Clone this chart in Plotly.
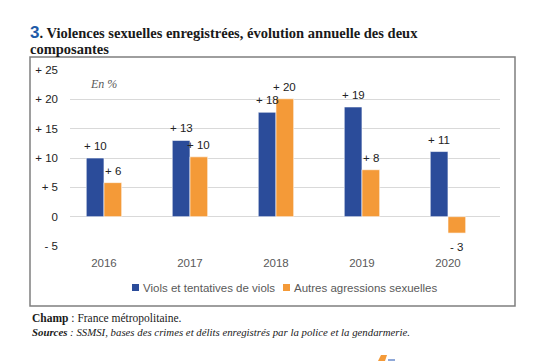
import plotly.graph_objects as go

years = ["2016", "2017", "2018", "2019", "2020"]
viols = [10.0, 13.0, 17.8, 18.7, 11.1]
autres = [5.8, 10.2, 20.1, 8.0, -2.8]
series_names = ["Viols et tentatives de viols", "Autres agressions sexuelles"]
ytick_vals = [-5, 0, 5, 10, 15, 20, 25]
ytick_text = ["- 5", "0", "+ 5", "+ 10", "+ 15", "+ 20", "+ 25"]

BLUE = "#2B4C9A"
ORANGE = "#F49A38"

W, H = 537, 361
L, R, T, B = 70, 500, 70, 246  # plot area in pixels


def px(x):
    return (x - L) / (R - L)


def py(y):
    return (B - y) / (B - T)


def lab(v):
    r = round(v)
    if r > 0:
        return f"+ {r}"
    if r < 0:
        return f"- {abs(r)}"
    return "0"


xpos = list(range(len(years)))
BARW = 0.206

fig = go.Figure()
for i, (name, vals, col) in enumerate([(series_names[0], viols, BLUE), (series_names[1], autres, ORANGE)]):
    fig.add_trace(go.Bar(
        x=xpos, y=vals, name=name, showlegend=False,
        marker=dict(color=col, line=dict(color="rgba(255,255,255,0.6)", width=1)),
        cliponaxis=False, hoverinfo="skip",
    ))
    off = (i - 0.5) * BARW
    for xv, v in zip(xpos, vals):
        fig.add_annotation(x=xv + off, y=v, xref="x", yref="y", showarrow=False,
                           text=lab(v), yanchor="bottom" if v >= 0 else "top",
                           yshift=4 if v >= 0 else -6,
                           font=dict(family="Liberation Sans, Arial", size=11.5, color="#222222"))

fig.update_layout(
    width=W, height=H,
    margin=dict(l=L, r=W - R, t=T, b=H - B),
    paper_bgcolor="white", plot_bgcolor="white",
    barmode="group", bargap=0.588, bargroupgap=0,
    showlegend=False,
    font=dict(family="Liberation Sans, Arial"),
)
fig.update_xaxes(
    range=[-0.395, 4.605], tickvals=xpos, ticktext=years,
    showgrid=False, zeroline=False, showline=False,
    tickfont=dict(size=11.5, color="#595959"), ticklabelstandoff=8,
)
fig.update_yaxes(
    range=[-5, 25], tickvals=ytick_vals, ticktext=ytick_text,
    showgrid=True, gridcolor="#D9D9D9", gridwidth=1,
    zeroline=True, zerolinecolor="#D9D9D9", zerolinewidth=1,
    showline=False,
    tickfont=dict(size=11.5, color="#222222"), ticklabelstandoff=11,
)

# Frame around the chart
fig.add_shape(type="rect", xref="paper", yref="paper",
              x0=px(30), x1=px(515), y0=py(306), y1=py(57),
              line=dict(color="#7F7F7F", width=1.5), layer="below")

# Legend (small squares close to the text, as in the reference)
for name, col, x0 in [(series_names[0], BLUE, 132), (series_names[1], ORANGE, 283)]:
    fig.add_shape(type="rect", xref="paper", yref="paper",
                  x0=px(x0), x1=px(x0 + 7), y0=py(291), y1=py(284),
                  fillcolor=col, line=dict(width=0))
    fig.add_annotation(xref="paper", yref="paper", x=px(x0 + 9), y=py(287.5),
                       xanchor="left", yanchor="middle", showarrow=False, text=name,
                       font=dict(family="Liberation Sans, Arial", size=11.5, color="#595959"))

# "En %"
fig.add_annotation(xref="paper", yref="paper", x=px(88), y=py(84),
                   xanchor="left", yanchor="middle", showarrow=False,
                   text="<i>En %</i>",
                   font=dict(family="Liberation Serif, serif", size=12, color="#595959"))

# Title (two lines)
TFONT = dict(family="Liberation Serif, serif", size=14.5, color="#1a1a1a")
fig.add_annotation(xref="paper", yref="paper", x=px(29), y=py(32),
                   xanchor="left", yanchor="middle", showarrow=False, align="left",
                   borderpad=0,
                   text="<span style='color:#1F5BA8;font-family:Liberation Sans;font-size:17px'><b>3</b></span>"
                        "<b>. Violences sexuelles enregistrées, évolution annuelle des deux</b>",
                   font=TFONT)
fig.add_annotation(xref="paper", yref="paper", x=px(29), y=py(49),
                   xanchor="left", yanchor="middle", showarrow=False, align="left",
                   borderpad=0,
                   text="<b>composantes</b>", font=TFONT)

# Footnotes
fig.add_annotation(xref="paper", yref="paper", x=px(30), y=py(318),
                   xanchor="left", yanchor="middle", showarrow=False, align="left",
                   text="<b>Champ</b> : France métropolitaine.",
                   font=dict(family="Liberation Serif, serif", size=11.5, color="#1a1a1a"))
fig.add_annotation(xref="paper", yref="paper", x=px(30), y=py(332),
                   xanchor="left", yanchor="middle", showarrow=False, align="left",
                   text="<b><i>Sources</i></b><i> : SSMSI, bases des crimes et délits enregistrés par la police et la gendarmerie.</i>",
                   font=dict(family="Liberation Serif, serif", size=10.8, color="#1a1a1a"))

# Small logo fragment at the bottom edge
fig.add_shape(type="path", xref="paper", yref="paper",
              path=f"M {px(378)},{py(361)} L {px(381)},{py(355)} L {px(387)},{py(355)} L {px(385)},{py(361)} Z",
              fillcolor=ORANGE, line=dict(width=0))
fig.add_shape(type="rect", xref="paper", yref="paper",
              x0=px(388), x1=px(395), y0=py(361), y1=py(359),
              fillcolor="#8FA8D8", line=dict(width=0))

fig.write_html("out.html", config={"displayModeBar": False},
               post_script="document.body.style.margin='0';")
